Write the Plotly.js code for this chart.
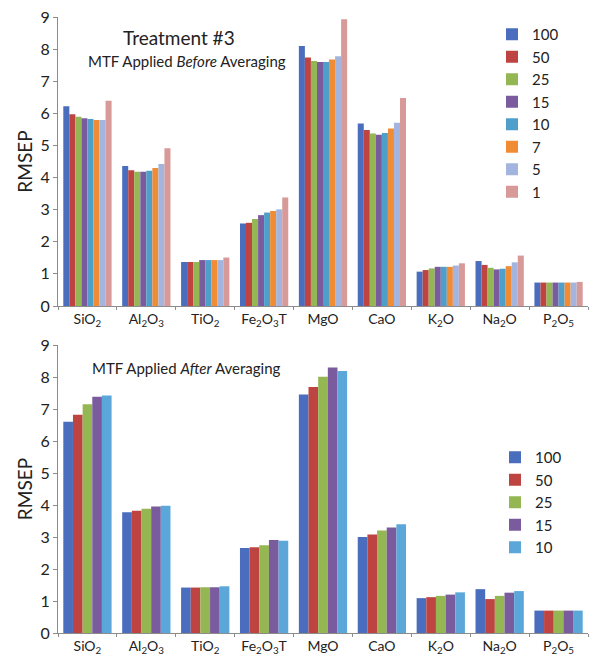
<!DOCTYPE html>
<html>
<head>
<meta charset="utf-8">
<script src="https://cdn.plot.ly/plotly-3.0.1.min.js"></script>
<style>html,body{margin:0;padding:0;background:#fff;}#chart{width:590px;height:658px;}</style>
</head>
<body>
<div id="chart"></div>
<script>
var categories = ["SiO<sub>2</sub>", "Al<sub>2</sub>O<sub>3</sub>", "TiO<sub>2</sub>", "Fe<sub>2</sub>O<sub>3</sub>T", "MgO", "CaO", "K<sub>2</sub>O", "Na<sub>2</sub>O", "P<sub>2</sub>O<sub>5</sub>"];
var topNames = ["100", "50", "25", "15", "10", "7", "5", "1"];
var bottomNames = ["100", "50", "25", "15", "10"];

var top100 = [6.22, 4.36, 1.37, 2.57, 8.10, 5.68, 1.07, 1.40, 0.73];
var top50  = [5.97, 4.23, 1.37, 2.59, 7.74, 5.48, 1.12, 1.28, 0.73];
var top25  = [5.89, 4.18, 1.37, 2.71, 7.63, 5.37, 1.17, 1.19, 0.73];
var top15  = [5.85, 4.18, 1.43, 2.83, 7.60, 5.33, 1.22, 1.14, 0.73];
var top10  = [5.82, 4.21, 1.43, 2.91, 7.60, 5.39, 1.22, 1.16, 0.73];
var top7   = [5.79, 4.30, 1.43, 2.96, 7.68, 5.53, 1.22, 1.24, 0.73];
var top5   = [5.79, 4.42, 1.43, 3.01, 7.78, 5.71, 1.26, 1.36, 0.73];
var top1   = [6.39, 4.91, 1.51, 3.38, 8.93, 6.48, 1.33, 1.57, 0.75];

var bot100 = [6.60, 3.77, 1.42, 2.66, 7.45, 3.00, 1.09, 1.37, 0.70];
var bot50  = [6.82, 3.82, 1.42, 2.68, 7.69, 3.08, 1.12, 1.06, 0.70];
var bot25  = [7.15, 3.88, 1.43, 2.74, 8.01, 3.20, 1.16, 1.16, 0.70];
var bot15  = [7.38, 3.95, 1.43, 2.91, 8.30, 3.30, 1.20, 1.26, 0.70];
var bot10  = [7.42, 3.98, 1.46, 2.88, 8.19, 3.40, 1.27, 1.31, 0.70];

var topColors = ["#4A6DBE", "#BE4441", "#94B653", "#7A5C9E", "#4F9FCB", "#F08C35", "#A3B5DE", "#D89A98"];
var botColors = ["#4A6DBE", "#BE4441", "#94B653", "#7A5C9E", "#5BA7DA"];

var topSeries = [top100, top50, top25, top15, top10, top7, top5, top1];
var botSeries = [bot100, bot50, bot25, bot15, bot10];

var FONT = "Lato, 'Open Sans', sans-serif";
var data = [];
topSeries.forEach(function (vals, i) {
  data.push({type: "bar", x: categories, y: vals, name: topNames[i], xaxis: "x", yaxis: "y",
    marker: {color: topColors[i]}, legend: "legend", legendgroup: "t" + i, hoverinfo: "y"});
});
botSeries.forEach(function (vals, i) {
  data.push({type: "bar", x: categories, y: vals, name: bottomNames[i], xaxis: "x2", yaxis: "y2",
    marker: {color: botColors[i]}, legend: "legend2", legendgroup: "b" + i, hoverinfo: "y"});
});

var T = 17, B = 25, H = 658 - T - B;
function py(pix) { return 1 - (pix - T) / H; }

var xCommon = {type: "category", showline: true, linecolor: "#8c8c8c", linewidth: 1,
  ticks: "outside", tickson: "boundaries", ticklen: 3, tickcolor: "#8c8c8c",
  tickfont: {family: FONT, size: 14, color: "#222"}, showgrid: false, zeroline: false,
  automargin: false};
var yCommon = {range: [0, 9], dtick: 1, showline: true, linecolor: "#8c8c8c", linewidth: 1,
  ticks: "outside", ticklen: 4, tickcolor: "#8c8c8c", showgrid: false, zeroline: false,
  tickfont: {family: FONT, size: 16, color: "#222"}, automargin: false,
  title: {text: "RMSEP", font: {family: FONT, size: 19, color: "#222"}, standoff: 2}};

var layout = {
  width: 590, height: 658,
  margin: {l: 58, r: 2, t: T, b: B},
  paper_bgcolor: "#ffffff", plot_bgcolor: "#ffffff",
  barmode: "group", bargap: 0.18, bargroupgap: 0,
  font: {family: FONT, color: "#222"},
  xaxis: Object.assign({}, xCommon, {domain: [0, 1], anchor: "y"}),
  yaxis: Object.assign({}, yCommon, {domain: [py(306), 1], anchor: "x"}),
  xaxis2: Object.assign({}, xCommon, {domain: [0, 1], anchor: "y2"}),
  yaxis2: Object.assign({}, yCommon, {domain: [0, py(345)], anchor: "x2"}),
  legend: {x: (492 - 58) / 530, y: py(18), xanchor: "left", yanchor: "top", bgcolor: "rgba(0,0,0,0)",
    font: {family: FONT, size: 15, color: "#222"}, itemwidth: 30, traceorder: "normal"},
  legend2: {x: (495 - 58) / 530, y: py(441), xanchor: "left", yanchor: "top", bgcolor: "rgba(0,0,0,0)",
    font: {family: FONT, size: 15, color: "#222"}, itemwidth: 30, traceorder: "normal"},
  annotations: [
    {text: "Treatment #3", xref: "paper", yref: "paper", x: (179 - 58) / 530, y: py(38),
      xanchor: "center", yanchor: "middle", showarrow: false, font: {family: FONT, size: 19, color: "#222"}},
    {text: "MTF Applied <i>Before</i> Averaging", xref: "paper", yref: "paper", x: (187 - 58) / 530, y: py(61),
      xanchor: "center", yanchor: "middle", showarrow: false, font: {family: FONT, size: 15, color: "#222"}},
    {text: "MTF Applied <i>After</i> Averaging", xref: "paper", yref: "paper", x: (186 - 58) / 530, y: py(368),
      xanchor: "center", yanchor: "middle", showarrow: false, font: {family: FONT, size: 15, color: "#222"}}
  ],
  showlegend: true
};

Plotly.newPlot("chart", data, layout, {displayModeBar: false, staticPlot: true});
</script>
</body>
</html>
